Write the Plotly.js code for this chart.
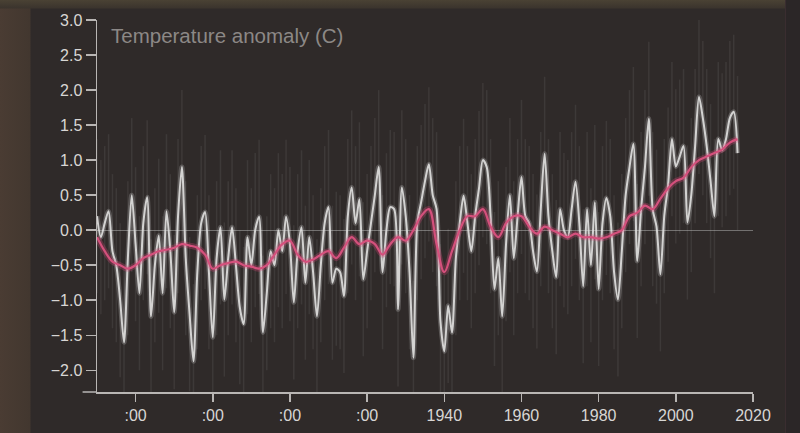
<!DOCTYPE html>
<html>
<head>
<meta charset="utf-8">
<script src="https://cdn.plot.ly/plotly-3.0.1.min.js"></script>
<style>
  html, body { margin:0; padding:0; width:800px; height:433px; overflow:hidden;
    background: linear-gradient(90deg, #4a3c33 0px, #42372f 30px, #2f2a29 31px);
  }
  #bg { position:absolute; left:0; top:0; width:800px; height:433px;
    background: linear-gradient(180deg, #4a4234 0px, #3b342d 8px, rgba(0,0,0,0) 9px); }
  #card { position:absolute; left:31px; top:9px; width:754px; height:424px; background:#2f2a29; }
  #edge { position:absolute; left:785px; top:0; width:15px; height:433px; background:#2b2627; border-left:1px solid #3a2d30; }
  #chart { position:absolute; left:0; top:0; width:800px; height:433px; }
</style>
</head>
<body>
<div id="bg"></div>
<div id="card"></div>
<div id="edge"></div>
<div id="chart"></div>
<script>
// Annual anomaly (C), 1850-2016
const startYear = 1850;
const annual = [
  0.2, -0.1, 0.1, 0.27, -0.3, -0.5, -1.0, -1.6, -0.4, 0.5,
  -0.2, -0.9, 0.1, 0.47, -1.23, -0.5, -0.08, -0.9, 0.27, -0.3,
  -1.17, 0.2, 0.9, -0.4, -1.2, -1.87, -0.6, 0.1, 0.26, -0.6,
  -1.53, -0.4, 0.04, -0.99, -0.4, 0.04, -0.5, -1.1, -1.34, -0.1,
  -0.5, 0.0, 0.19, -1.46, -0.9, -0.3, -0.5, 0.0, -0.3, 0.19,
  -0.2, -1.03, -0.3, 0.04, -0.75, -0.1, -0.6, -1.23, -0.5, 0.1,
  0.33, -0.75, -0.55, -0.6, -0.94, 0.2, 0.61, 0.1, 0.44, -0.7,
  -0.3, 0.1, 0.5, 0.9, -0.6, 0.0, 0.33, 0.3, -1.13, 0.61,
  0.2, -0.6, -1.82, 0.1, 0.4, 0.7, 0.94, 0.5, 0.3, -1.3,
  -1.73, -1.08, -1.46, -0.4, 0.1, 0.49, 0.1, -0.3, 0.2, 0.6,
  1.0, 0.9, 0.2, -0.84, -0.4, -1.23, -0.2, 0.5, -0.4, 0.2,
  0.76, 0.2, 0.1, -0.3, -0.59, 0.3, 1.09, 0.2, -0.3, -0.67,
  0.3, 0.0, -0.1, 0.3, 0.69, 0.1, -0.8, 0.3, -0.5, 0.4,
  -0.84, 0.1, 0.46, 0.2, -0.6, -0.99, -0.3, 0.5, 0.9, 1.23,
  -0.44, 0.3, 0.9, 1.59, 0.3, 0.05, -0.63, 0.2, 0.65, 1.3,
  0.91, 1.05, 1.2, 0.11, 0.5, 1.2, 1.9, 1.6, 1.2, 0.7,
  0.2, 1.3, 1.14, 1.3, 1.6, 1.69, 1.1
];
// Smoothed trend (C), every 2 years 1850-2016
const smoothYears = [
  1850,1852,1854,1856,1858,1860,1862,1864,1866,1868,1870,1872,1874,1876,1878,1880,
  1882,1884,1886,1888,1890,1892,1894,1896,1898,1900,1902,1904,1906,1908,1910,1912,
  1914,1916,1918,1920,1922,1924,1926,1928,1930,1932,1934,1936,1938,1940,1942,1944,
  1946,1948,1950,1952,1954,1956,1958,1960,1962,1964,1966,1968,1970,1972,1974,1976,
  1978,1980,1982,1984,1986,1988,1990,1992,1994,1996,1998,2000,2002,2004,2006,2008,
  2010,2012,2014,2016
];
const smooth = [
  -0.1,-0.3,-0.45,-0.5,-0.55,-0.5,-0.4,-0.35,-0.3,-0.28,-0.25,-0.2,-0.22,-0.25,-0.35,-0.55,
  -0.5,-0.47,-0.45,-0.5,-0.52,-0.55,-0.5,-0.35,-0.2,-0.15,-0.35,-0.45,-0.42,-0.35,-0.3,-0.4,
  -0.25,-0.1,-0.2,-0.15,-0.2,-0.35,-0.2,-0.1,-0.15,0.0,0.2,0.3,-0.2,-0.6,-0.3,0.0,
  0.2,0.2,0.3,0.05,-0.1,0.1,0.2,0.2,0.05,-0.05,0.05,0.0,-0.05,-0.1,-0.05,-0.1,
  -0.1,-0.12,-0.1,-0.05,0.0,0.2,0.25,0.35,0.3,0.45,0.6,0.7,0.75,0.9,1.0,1.05,
  1.1,1.15,1.25,1.3
];
const yTickVals = [-2, -1.5, -1, -0.5, 0, 0.5, 1, 1.5, 2, 2.5, 3];
const xTickVals = [1860, 1880, 1900, 1920, 1940, 1960, 1980, 2000, 2020];
const xTickText = [':00', ':00', ':00', ':00', '1940', '1960', '1980', '2000', '2020'];
const titleText = 'Temperature anomaly (C)';

const years = annual.map((_, i) => startYear + i);
const axisCol = '#b9b6b4';

const traces = [
  { x: years, y: annual, type: 'scatter', mode: 'lines',
    line: { color: 'rgba(0,0,0,0)', width: 0 },
    error_y: { type: 'constant', value: 1.1, color: 'rgba(210,210,210,0.09)', thickness: 1.5, width: 0 },
    hoverinfo: 'skip', showlegend: false },
  { x: years, y: annual, type: 'scatter', mode: 'lines',
    line: { color: 'rgba(235,235,235,0.22)', width: 5, shape: 'spline', smoothing: 0.8 },
    hoverinfo: 'skip', showlegend: false },
  { x: years, y: annual, type: 'scatter', mode: 'lines',
    line: { color: 'rgba(228,228,226,0.88)', width: 2, shape: 'spline', smoothing: 0.8 },
    showlegend: false },
  { x: smoothYears, y: smooth, type: 'scatter', mode: 'lines',
    line: { color: 'rgba(215,70,120,0.3)', width: 6, shape: 'spline' },
    hoverinfo: 'skip', showlegend: false },
  { x: smoothYears, y: smooth, type: 'scatter', mode: 'lines',
    line: { color: '#d4507c', width: 2.2, shape: 'spline' },
    showlegend: false }
];

const layout = {
  width: 800, height: 433,
  margin: { l: 97, r: 47, t: 20, b: 41 },
  paper_bgcolor: 'rgba(0,0,0,0)',
  plot_bgcolor: 'rgba(0,0,0,0)',
  font: { family: 'Liberation Sans, Arial, sans-serif', color: '#d4d2d0', size: 16 },
  xaxis: {
    range: [1850, 2020], showgrid: false, zeroline: false,
    showline: true, linecolor: axisCol, linewidth: 1.5,
    ticks: 'outside', ticklen: 8, tickcolor: axisCol, tickwidth: 1.5,
    tickvals: xTickVals, ticktext: xTickText,
    tickfont: { size: 16, color: '#d8d6d4' }
  },
  yaxis: {
    range: [-2.31, 3.0], showgrid: false,
    zeroline: true, zerolinecolor: 'rgba(200,200,200,0.45)', zerolinewidth: 1,
    showline: true, linecolor: axisCol, linewidth: 1.5,
    ticks: 'outside', ticklen: 10, tickcolor: axisCol, tickwidth: 1.5,
    tickvals: yTickVals, tickformat: '.1f',
    tickfont: { size: 16, color: '#d8d6d4' }
  },
  shapes: [
    { type: 'line', xref: 'paper', yref: 'paper', x0: -0.022, x1: 0, y0: 0, y1: 0,
      line: { color: axisCol, width: 1.5 } }
  ],
  annotations: [
    { text: titleText, xref: 'paper', yref: 'paper', x: 0.018, y: 0.995,
      xanchor: 'left', yanchor: 'top', showarrow: false,
      font: { size: 20.5, color: '#8c8886' } }
  ]
};

Plotly.newPlot('chart', traces, layout, { displayModeBar: false, staticPlot: true });
</script>
</body>
</html>
